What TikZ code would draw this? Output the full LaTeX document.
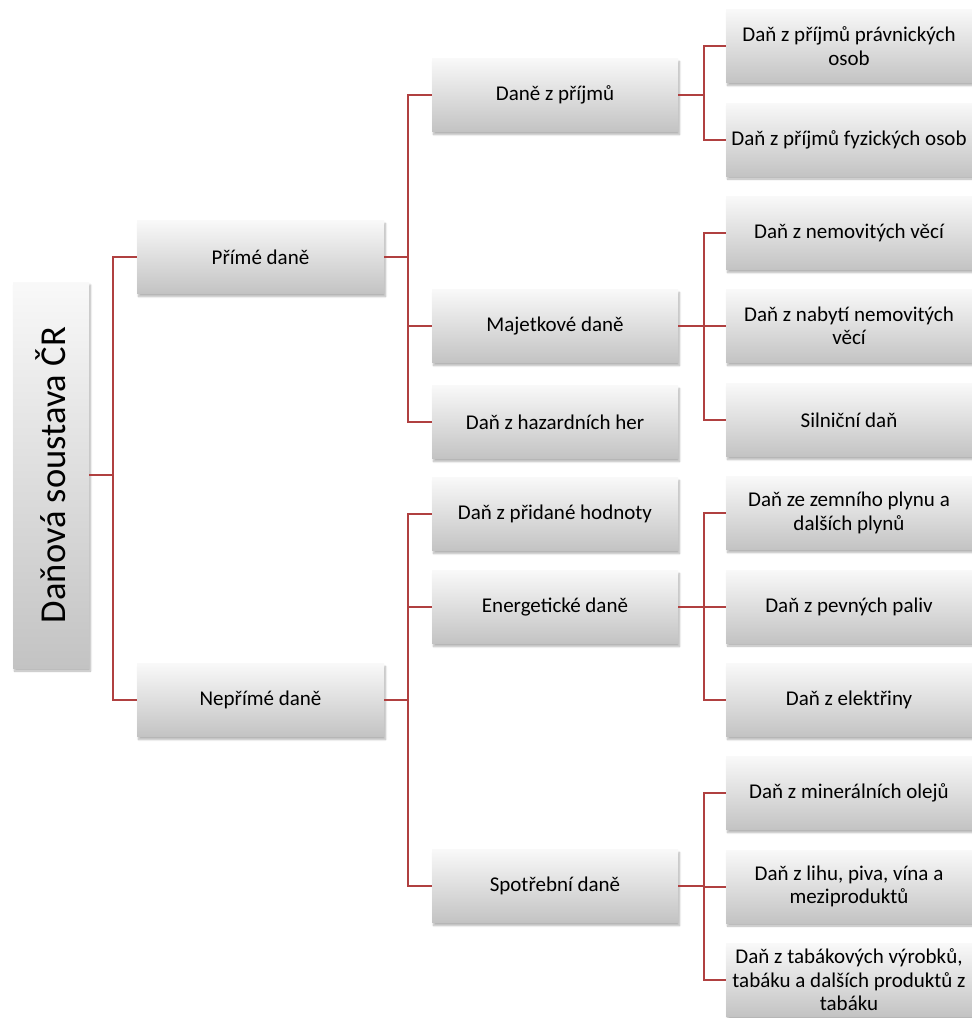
\documentclass[tikz,border=0pt]{standalone}
\usepackage{fontspec}
\setmainfont{Carlito}
\usepackage{graphicx}
\usetikzlibrary{shadows.blur}
\definecolor{linkred}{RGB}{176,64,64}

\begin{document}
\begin{tikzpicture}[x=1pt,y=-1pt,
  box/.style={top color=gray!5,bottom color=gray!47,minimum width=246pt,
    minimum height=73pt,inner sep=1pt,align=center,
    font=\fontsize{21}{23.5}\selectfont,
    blur shadow={shadow xshift=1.5pt,shadow yshift=-3pt,shadow opacity=30,shadow blur steps=6}},
  link/.style={draw=linkred,line width=2pt}]
  \useasboundingbox (0,0) rectangle (972,1018);
  % root
  \node[box,minimum width=76pt,minimum height=386pt] (root) at (51,475)
    {\rotatebox{90}{\fontsize{36.5}{42}\selectfont Daňová soustava ČR}};
  % first level
  \node[box,minimum width=247pt] (prime) at (260.5,257) {Přímé daně};
  \node[box,minimum width=247pt] (neprime) at (260.5,700) {Nepřímé daně};
  % second level
  \node[box] (prijmy) at (555,95) {Daně z příjmů};
  \node[box] (majetek) at (555,326) {Majetkové daně};
  \node[box] (hazard) at (555,422) {Daň z hazardních her};
  \node[box] (dph) at (555,514) {Daň z přidané hodnoty};
  \node[box] (energie) at (555,607) {Energetické daně};
  \node[box] (spotreba) at (555,886) {Spotřební daně};
  % third level
  \node[box] (pravnicke) at (849,46) {Daň z příjmů právnických\\osob};
  \node[box] (fyzicke) at (849,139.5) {Daň z příjmů fyzických osob};
  \node[box] (nemovite) at (849,233) {Daň z nemovitých věcí};
  \node[box] (nabyti) at (849,326) {Daň z nabytí nemovitých\\věcí};
  \node[box] (silnicni) at (849,420) {Silniční daň};
  \node[box] (plyn) at (849,513) {Daň ze zemního plynu a\\dalších plynů};
  \node[box] (paliva) at (849,606.5) {Daň z pevných paliv};
  \node[box] (elektrina) at (849,700) {Daň z elektřiny};
  \node[box] (oleje) at (849,793) {Daň z minerálních olejů};
  \node[box] (lih) at (849,886.5) {Daň z lihu, piva, vína a\\meziproduktů};
  \node[box] (tabak) at (849,980) {Daň z tabákových výrobků,\\tabáku a dalších produktů z\\tabáku};
  % connectors
  \foreach \c in {prime,neprime}
    \draw[link] (root.east) -- ++(24,0) |- (\c.west);
  \foreach \c in {prijmy,majetek,hazard}
    \draw[link] (prime.east) -- ++(24,0) |- (\c.west);
  \foreach \c in {dph,energie,spotreba}
    \draw[link] (neprime.east) -- ++(24,0) |- (\c.west);
  \foreach \c in {pravnicke,fyzicke}
    \draw[link] (prijmy.east) -- ++(26,0) |- (\c.west);
  \foreach \c in {nemovite,nabyti,silnicni}
    \draw[link] (majetek.east) -- ++(26,0) |- (\c.west);
  \foreach \c in {plyn,paliva,elektrina}
    \draw[link] (energie.east) -- ++(26,0) |- (\c.west);
  \foreach \c in {oleje,lih,tabak}
    \draw[link] (spotreba.east) -- ++(26,0) |- (\c.west);
\end{tikzpicture}
\end{document}
